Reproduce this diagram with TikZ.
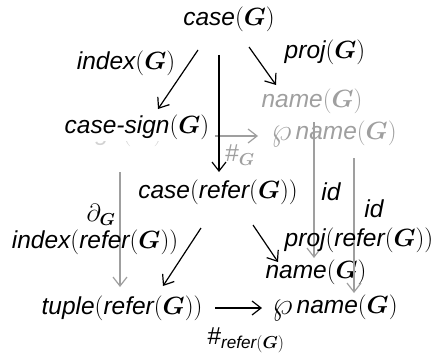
\documentclass[tikz,border=0pt]{standalone}
\usepackage{amsmath}
\usepackage{graphicx}
\usepackage{fontspec}
\setmainfont{Liberation Sans}
\usetikzlibrary{arrows.meta}

\newcommand{\gG}{\boldsymbol{G}}
\newcommand{\pw}{\raisebox{-0.5pt}{\scalebox{1.3}{$\wp$}}\,}
\newcommand{\objfont}{\fontsize{24.5}{28}\selectfont\itshape}

\tikzset{
    obj/.style={inner sep=0pt, font=\objfont},
    back obj/.style={obj, text=gray!75},
    hidden obj/.style={obj, text=gray!35},
    lbl/.style={inner sep=0pt, font=\objfont},
    map/.style={-{Straight Barb[length=9pt,width=14pt]}, line width=1.2pt},
    back map/.style={map, draw=gray!75}
}

\begin{document}
\begin{tikzpicture}[x=1pt, y=-1pt]
    \useasboundingbox (0,0) rectangle (436,353);

    % back face
    \node[hidden obj] (sign) at (120,134) {sign$(\gG)$};
    \node[back obj] (nameback) at (312,101) {name$(\gG)$};
    \node[back obj] (pnameback) at (334,134) {\pw name$(\gG)$};

    \draw[back map] ([shift={(95,2)}]sign.center) -- ([shift={(-76,2)}]pnameback.center);
    \node[lbl, text=gray!75] (hashG) at (240,155) {$\#_{\gG}$};

    % front objects
    \node[obj] (case) at (229,19) {case$(\gG)$};
    \node[obj, fill=white, inner xsep=3pt, inner ysep=2pt] (casesign) at (137,127) {case-sign$(\gG)$};
    \node[obj] (caserefer) at (218,192) {case$($refer$(\gG))$};
    \node[obj] (name) at (316,272) {name$(\gG)$};
    \node[obj] (tuple) at (122,308) {tuple$($refer$(\gG))$};
    \node[obj] (pname) at (335,308) {\pw name$(\gG)$};

    % vertical back maps
    \draw[back map] ([shift={(0,38)}]sign.center) -- ([shift={(-2,-21)}]tuple.center);
    \draw[back map] ([shift={(2,21)}]nameback.center) -- ([shift={(-2,-14)}]name.center);
    \draw[back map] ([shift={(20,24)}]pnameback.center) -- ([shift={(19,-15)}]pname.center);

    % labels
    \node[lbl] (lindex) at (126,63) {index$(\gG)$};
    \node[lbl] (lproj) at (325,52) {proj$(\gG)$};
    \node[lbl] (lid1) at (331,192) {id};
    \node[lbl] (lid2) at (374,209) {id};
    \node[lbl] (ldel) at (101,215) {$\partial_{\gG}$};
    \node[lbl] (lindexref) at (95,242) {index$($refer$(\gG))$};
    \node[lbl] (lprojref) at (359,240) {proj$($refer$(\gG))$};
    \node[lbl] (lhashref) at (246,340) {$\#_{\text{\itshape refer}(\gG)}$};

    % front maps
    \draw[map] ([shift={(-31,31)}]case.center) -- ([shift={(21,-18)}]casesign.center);
    \draw[map] ([shift={(-10,36)}]case.center) -- ([shift={(1,-20)}]caserefer.center);
    \draw[map] ([shift={(20,28)}]case.center) -- ([shift={(-36,-16)}]nameback.center);
    \draw[map] ([shift={(-17,36)}]caserefer.center) -- ([shift={(41,-22)}]tuple.center);
    \draw[map] ([shift={(35,33)}]caserefer.center) -- ([shift={(-38,-10)}]name.center);
    \draw[map] ([shift={(93,0)}]tuple.center) -- ([shift={(-73,0)}]pname.center);
\end{tikzpicture}
\end{document}
